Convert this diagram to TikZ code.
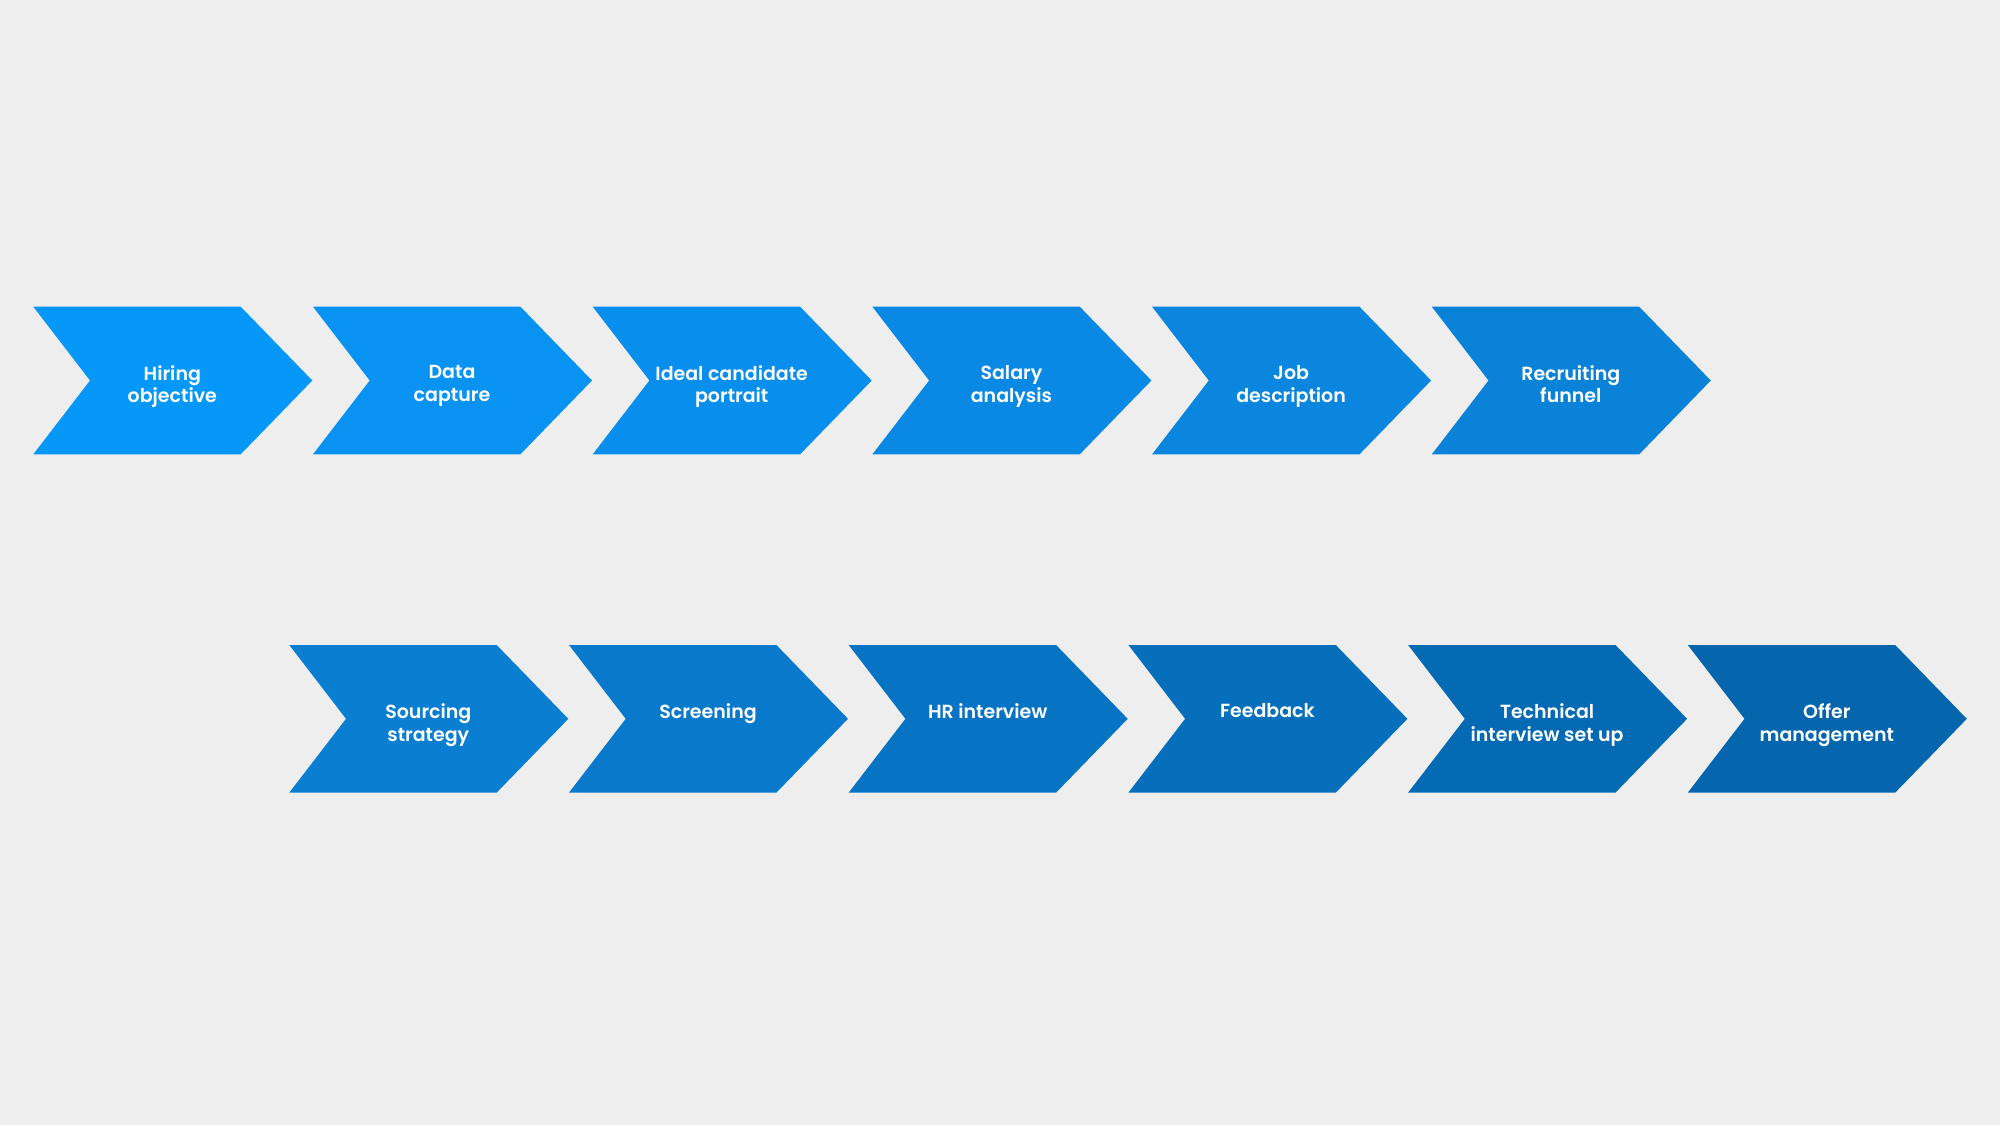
\documentclass[tikz,border=0pt]{standalone}
\usepackage{fontspec}
\newfontfamily\lblfont{Poppins}[UprightFont=* SemiBold]
\definecolor{bg}{HTML}{EEEEEE}
\definecolor{c1}{HTML}{0598F8}
\definecolor{c2}{HTML}{0893F2}
\definecolor{c3}{HTML}{088EEC}
\definecolor{c4}{HTML}{0A89E4}
\definecolor{c5}{HTML}{0A86DE}
\definecolor{c6}{HTML}{0A82D8}
\definecolor{c7}{HTML}{0A7ED1}
\definecolor{c8}{HTML}{0879CB}
\definecolor{c9}{HTML}{0674C3}
\definecolor{c10}{HTML}{066FBB}
\definecolor{c11}{HTML}{056AB4}
\definecolor{c12}{HTML}{0566AD}
\tikzset{
  chev/.style={fill=#1, draw=none},
  lbl/.style={text=white, font=\lblfont\fontsize{19}{22.6}\selectfont, align=center, anchor=north, inner sep=0pt}
}
\newcommand\chevronstep[5]{%
  \fill[chev=#4] (#2,#3) -- ++(207.4,0) -- ++(71.6,73.8) -- ++(-71.6,73.8) -- ++(-207.4,0) -- ++(56.7,-73.8) -- cycle;
  \node[lbl] (#1) at (#2+139.0,#3+58.5) {#5};%
}
\begin{document}
\begin{tikzpicture}[x=1pt,y=-1pt]
\fill[bg] (0,0) rectangle (2000,1125);
\useasboundingbox (0,0) rectangle (2000,1125);
\chevronstep{s1}{33.3}{306.7}{c1}{Hiring\\objective}
\chevronstep{s2}{313.0}{306.7}{c2}{Data\\capture}
\chevronstep{s3}{592.7}{306.7}{c3}{Ideal candidate\\portrait}
\chevronstep{s4}{872.4}{306.7}{c4}{Salary\\analysis}
\chevronstep{s5}{1152.1}{306.7}{c5}{Job\\description}
\chevronstep{s6}{1431.8}{306.7}{c6}{Recruiting\\funnel}
\chevronstep{s7}{289.3}{645}{c7}{Sourcing\\strategy}
\chevronstep{s8}{569.0}{645}{c8}{Screening}
\chevronstep{s9}{848.7}{645}{c9}{HR interview}
\chevronstep{s10}{1128.4}{645}{c10}{Feedback}
\chevronstep{s11}{1408.1}{645}{c11}{Technical\\interview set up}
\chevronstep{s12}{1687.8}{645}{c12}{Offer\\management}
\end{tikzpicture}
\end{document}
